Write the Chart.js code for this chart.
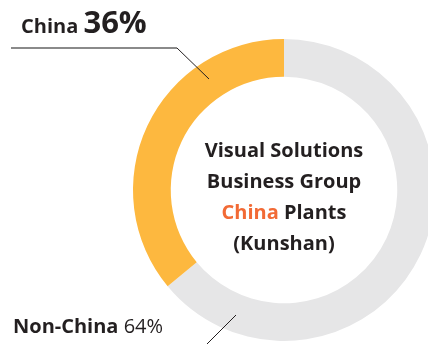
<!DOCTYPE html>
<html>
<head>
<meta charset="utf-8">
<script src="https://cdn.jsdelivr.net/npm/chart.js@4/dist/chart.umd.min.js"></script>
<style>
  html, body { margin: 0; padding: 0; background: #ffffff; overflow: hidden; width: 428px; height: 344px; }
  #wrap { position: absolute; left: 0; top: 0; width: 444px; height: 344px; }
</style>
</head>
<body>
<div id="wrap"><canvas id="c" width="444" height="344"></canvas></div>
<script>
// Plant share by region (percent)
const categories = ['Non-China', 'China'];
const shares = [64, 36];
const colors = ['#E6E6E7', '#FDB83F'];
const centerLines = [
  [['Visual Solutions', '#231F20']],
  [['Business Group', '#231F20']],
  [['China', '#F26A35'], [' Plants', '#231F20']],
  [['(Kunshan)', '#231F20']]
];

const FONT = '"Open Sans", "Noto Sans", sans-serif';

// Labels, leader lines and the center caption
const annotate = {
  id: 'annotate',
  afterDatasetsDraw(chart) {
    const ctx = chart.ctx;
    const arcs = chart.getDatasetMeta(0).data;
    const cx = arcs[0].x;
    ctx.save();

    // China label
    ctx.textBaseline = 'alphabetic';
    ctx.textAlign = 'left';
    ctx.fillStyle = '#231F20';
    ctx.font = '700 20px ' + FONT;
    ctx.fillText(categories[1], 21, 33);
    const w1 = ctx.measureText(categories[1] + ' ').width;
    ctx.font = '700 31px ' + FONT;
    ctx.fillText(shares[1] + '%', 21 + w1, 33);

    // China leader
    ctx.strokeStyle = '#8a8a8a';
    ctx.lineWidth = 2;
    ctx.beginPath();
    ctx.moveTo(11, 48);
    ctx.lineTo(177, 48);
    ctx.stroke();
    ctx.strokeStyle = '#231F20';
    ctx.lineWidth = 1;
    ctx.beginPath();
    ctx.moveTo(177, 48);
    ctx.lineTo(209, 79);
    ctx.stroke();

    // Non-China label
    ctx.font = '700 20px ' + FONT;
    ctx.fillText(categories[0], 13, 333);
    const w0 = ctx.measureText(categories[0] + ' ').width;
    ctx.font = '400 20px ' + FONT;
    ctx.fillText(shares[0] + '%', 13 + w0, 333);

    // Non-China leader
    ctx.beginPath();
    ctx.moveTo(236, 315);
    ctx.lineTo(205, 346);
    ctx.stroke();

    // Center caption
    ctx.font = '700 20px ' + FONT;
    const baseY = [157, 188, 219, 250];
    centerLines.forEach((parts, i) => {
      const total = parts.reduce((s, p) => s + ctx.measureText(p[0]).width, 0);
      let x = cx - total / 2;
      parts.forEach(p => {
        ctx.fillStyle = p[1];
        ctx.fillText(p[0], x, baseY[i]);
        x += ctx.measureText(p[0]).width;
      });
    });
    ctx.restore();
  }
};

new Chart(document.getElementById('c'), {
  type: 'doughnut',
  data: {
    labels: categories,
    datasets: [{
      data: shares,
      backgroundColor: colors,
      borderWidth: 0,
      hoverOffset: 0
    }]
  },
  options: {
    responsive: false,
    animation: false,
    cutout: '75%',
    rotation: 0,
    layout: { padding: { left: 133, right: 9, top: 39, bottom: 3 } },
    plugins: { legend: { display: false }, tooltip: { enabled: false } }
  },
  plugins: [annotate]
});
</script>
</body>
</html>
